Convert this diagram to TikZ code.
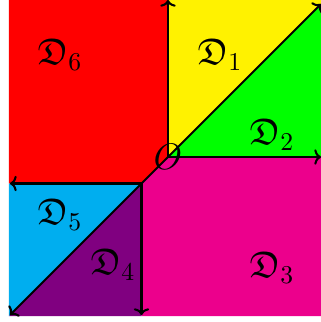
\documentclass[tikz,border=0pt]{standalone}
\usepackage{amsmath,amssymb}
\usetikzlibrary{arrows.meta}
\definecolor{Ac}{HTML}{FFF200}
\definecolor{Bc}{HTML}{00FF00}
\definecolor{Cc}{HTML}{EC008C}
\definecolor{Dc}{HTML}{800080}
\definecolor{Ec}{HTML}{00AEEF}
\definecolor{Fc}{HTML}{FF0000}
\tikzset{
  ax/.style={-{To[length=2.6pt,width=6pt]}, thick},
  seg/.style={thick},
  lab/.style={inner sep=1pt, font=\Large},
}
\begin{document}
\begin{tikzpicture}[x=0.39pt,y=0.39pt]
  \useasboundingbox (-168,-165) rectangle (153,157);
  \coordinate (O) at (0,0);
  \coordinate (P) at (-26.5,-26.5);
  \coordinate (N) at (0,157);
  \coordinate (E) at (153,0);
  \coordinate (NE) at (153,153);
  \coordinate (W) at (-158,-26.5);
  \coordinate (S) at (-26.5,-158);
  \coordinate (SW) at (-158,-158);
  % the six regions
  \fill[Ac] (O) -- (N) -- (153,157) -- (NE) -- cycle;
  \fill[Bc] (O) -- (NE) -- (E) -- cycle;
  \fill[Cc] (O) -- (E) -- (153,-159) -- (-26.5,-159) -- (P) -- cycle;
  \fill[Dc] (P) -- (-26.5,-159) -- (-159,-159) -- cycle;
  \fill[Ec] (P) -- (-159,-159) -- (-159,-26.5) -- cycle;
  \fill[Fc] (-159,157) -- (N) -- (O) -- (P) -- (-159,-26.5) -- cycle;
  % rays
  \draw[ax] (O) -- (N);
  \draw[ax] (O) -- (E);
  \draw[ax] (O) -- (NE);
  \draw[seg] (O) -- (P);
  \draw[ax] (P) -- (W);
  \draw[ax] (P) -- (S);
  \draw[ax] (P) -- (SW);
  \node[lab] (o) at (O) {$O$};
  \node[lab] (d1) at (52,102) {$\mathfrak{D}_1$};
  \node[lab] (d2) at (104,22) {$\mathfrak{D}_2$};
  \node[lab] (d3) at (104,-111) {$\mathfrak{D}_3$};
  \node[lab] (d4) at (-55,-108) {$\mathfrak{D}_4$};
  \node[lab] (d5) at (-108,-58) {$\mathfrak{D}_5$};
  \node[lab] (d6) at (-108,102) {$\mathfrak{D}_6$};
\end{tikzpicture}
\end{document}
